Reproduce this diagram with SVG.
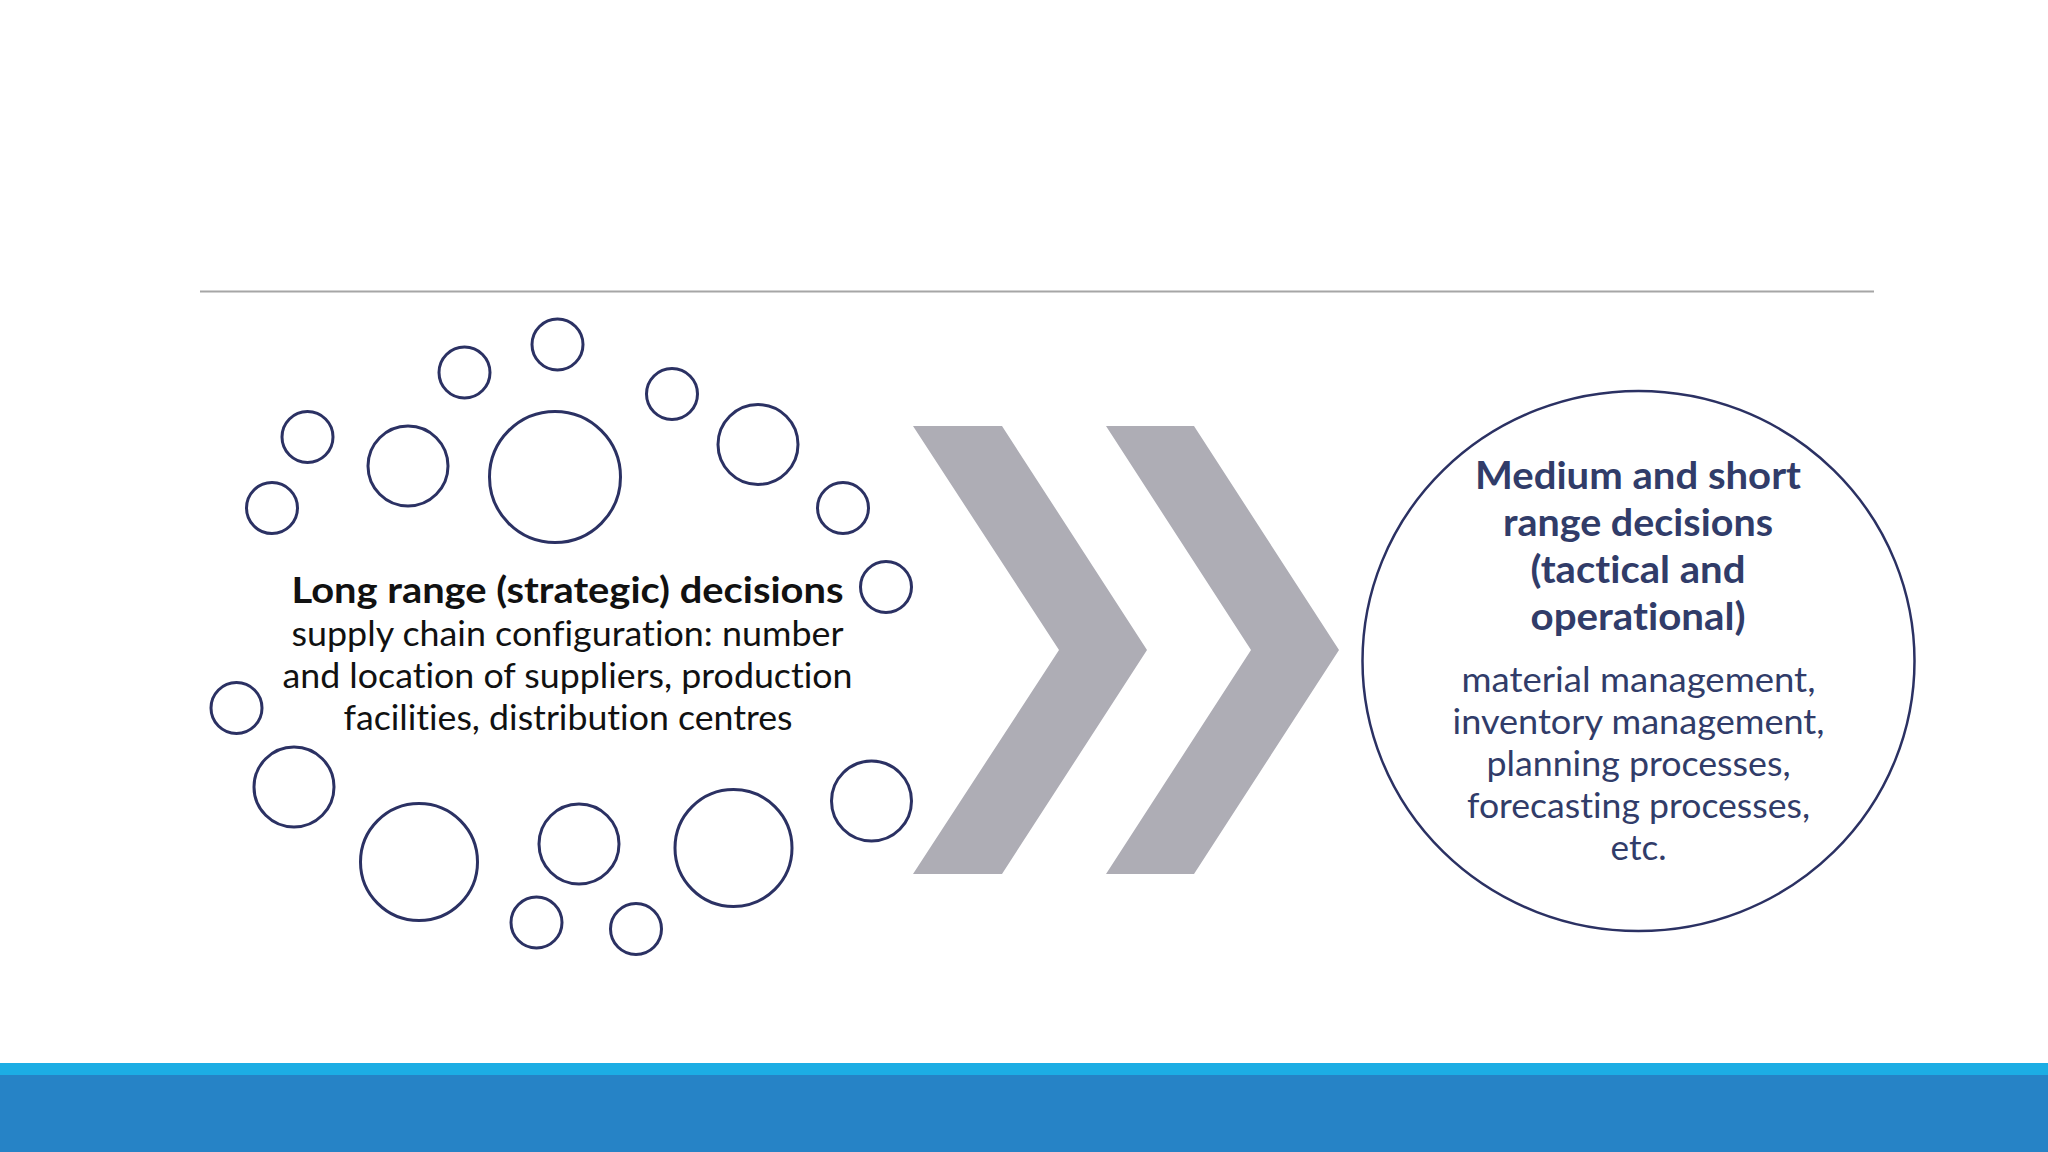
<svg xmlns="http://www.w3.org/2000/svg" width="2048" height="1152" viewBox="0 0 2048 1152">
<style>
text{font-variant-ligatures:none;font-feature-settings:"liga" 0,"dlig" 0}
.bub{fill:none;stroke:#2B3163;stroke-width:3}
.lb{font-family:Lato,"Open Sans","DejaVu Sans",sans-serif;font-weight:700;font-size:36px;fill:#111111;text-anchor:middle}
.lr{font-family:Lato,"Open Sans","DejaVu Sans",sans-serif;font-size:34px;fill:#111111;text-anchor:middle}
.rb{font-family:Lato,"Open Sans","DejaVu Sans",sans-serif;font-weight:700;font-size:38px;fill:#313C69;text-anchor:middle}
.rr{font-family:Lato,"Open Sans","DejaVu Sans",sans-serif;font-size:34px;fill:#313C69;text-anchor:middle}
.chev{fill:#AEADB5}
</style>
<rect x="0" y="0" width="2048" height="1152" fill="#FFFFFF"/>
<line x1="200" y1="291.5" x2="1874" y2="291.5" stroke="#A6A6A6" stroke-width="2"/>
<g id="bubbles">
<circle class="bub" cx="557.5" cy="344.5" r="25.5"/>
<circle class="bub" cx="464.5" cy="372.5" r="25.5"/>
<circle class="bub" cx="672" cy="394" r="25.5"/>
<circle class="bub" cx="307.5" cy="437" r="25.5"/>
<circle class="bub" cx="408" cy="466" r="40"/>
<circle class="bub" cx="555" cy="477" r="65.5"/>
<circle class="bub" cx="758" cy="444.5" r="40"/>
<circle class="bub" cx="272" cy="508" r="25.5"/>
<circle class="bub" cx="843" cy="508" r="25.5"/>
<circle class="bub" cx="886" cy="587" r="25.5"/>
<circle class="bub" cx="236.5" cy="708" r="25.5"/>
<circle class="bub" cx="294" cy="787" r="40"/>
<circle class="bub" cx="419" cy="862" r="58.5"/>
<circle class="bub" cx="579" cy="844" r="40"/>
<circle class="bub" cx="733.5" cy="848" r="58.5"/>
<circle class="bub" cx="871.5" cy="801" r="40"/>
<circle class="bub" cx="536.5" cy="922.5" r="25.5"/>
<circle class="bub" cx="636" cy="929" r="25.5"/>
</g>
<g id="long-range">
<text class="lb" x="567.5" y="603" textLength="552" lengthAdjust="spacingAndGlyphs">Long range (strategic) decisions</text>
<text class="lr" x="567.5" y="645.5" textLength="552" lengthAdjust="spacingAndGlyphs">supply chain configuration: number</text>
<text class="lr" x="567.5" y="687.5" textLength="570" lengthAdjust="spacingAndGlyphs">and location of suppliers, production</text>
<text class="lr" x="568" y="729.5" textLength="449" lengthAdjust="spacingAndGlyphs">facilities, distribution centres</text>
</g>
<g id="connectors">
<polygon class="chev" points="913,426 1002,426 1147,650 1002,874 913,874 1059,650"/>
<polygon class="chev" points="1106,426 1194,426 1339,650 1194,874 1106,874 1251,650"/>
</g>
<g id="short-range">
<ellipse cx="1638.5" cy="661" rx="276" ry="270" fill="#FFFFFF" stroke="#2B3163" stroke-width="2.5"/>
<text class="rb" x="1638" y="489" textLength="326" lengthAdjust="spacingAndGlyphs">Medium and short</text>
<text class="rb" x="1638" y="536" textLength="270" lengthAdjust="spacingAndGlyphs">range decisions</text>
<text class="rb" x="1638" y="583" textLength="215" lengthAdjust="spacingAndGlyphs">(tactical and</text>
<text class="rb" x="1638" y="630" textLength="215" lengthAdjust="spacingAndGlyphs">operational)</text>
<text class="rr" x="1638.5" y="692" textLength="354" lengthAdjust="spacingAndGlyphs">material management,</text>
<text class="rr" x="1638.5" y="734" textLength="372" lengthAdjust="spacingAndGlyphs">inventory management,</text>
<text class="rr" x="1638.5" y="776" textLength="304" lengthAdjust="spacingAndGlyphs">planning processes,</text>
<text class="rr" x="1638.5" y="818" textLength="343" lengthAdjust="spacingAndGlyphs">forecasting processes,</text>
<text class="rr" x="1638.5" y="860" textLength="56" lengthAdjust="spacingAndGlyphs">etc.</text>
</g>
<rect x="0" y="1063" width="2048" height="12" fill="#1CADE4"/>
<rect x="0" y="1075" width="2048" height="77" fill="#2683C6"/>
</svg>
